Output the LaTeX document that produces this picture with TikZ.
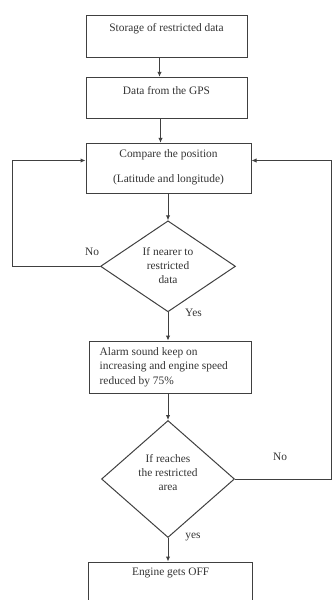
\documentclass[tikz,border=0pt]{standalone}
\usepackage{fontspec}
\setmainfont{Liberation Serif}
\usetikzlibrary{shapes.geometric,arrows.meta,calc}
\begin{document}
\begin{tikzpicture}[x=1pt,y=-1pt,
  box/.style={draw=black!75,line width=1pt,rectangle,inner sep=0pt},
  dia/.style={draw=black!75,line width=1pt,diamond,inner sep=0pt,aspect=1.5},
  txt/.style={inner sep=0pt,font=\fontsize{11.4}{14.5}\selectfont,text=black!80},
  dtxt/.style={txt,align=center,font=\fontsize{11.4}{14}\selectfont},
  arr/.style={draw=black!75,line width=1pt,-{Latex[length=5pt,width=4.5pt]}}
]
\useasboundingbox (0,0) rectangle (333,600);
\clip (0,0) rectangle (333,600);

\node[box,minimum width=161pt,minimum height=42pt,
  label={[txt,anchor=center,yshift=-14pt]north:Storage of restricted data}] (b1) at (166.5,36.2) {};
\node[box,minimum width=161pt,minimum height=41pt,
  label={[txt,anchor=center,yshift=-13.4pt]north:Data from the GPS}] (b2) at (166.5,97.8) {};
\node[box,minimum width=165pt,minimum height=50pt,
  label={[txt,align=center,anchor=center,yshift=-24.2pt]north:Compare the position\\[10.5pt](Latitude and longitude)}] (b3) at (168.5,168.3) {};
\node[dia,minimum width=135pt,minimum height=91pt,
  label={[dtxt,anchor=center,yshift=-45.2pt]north:If nearer to\\restricted\\data}] (d1) at (168,266.3) {};
\node[box,minimum width=162.4pt,minimum height=52.3pt,
  label={[txt,align=left,anchor=west,xshift=10.7pt]west:Alarm sound keep on\\increasing and engine speed\\reduced by 75\%}] (b4) at (170.5,367.2) {};
\node[dia,minimum width=133pt,minimum height=117pt,
  label={[dtxt,anchor=center,yshift=-52.8pt]north:If reaches\\the restricted\\area}] (d2) at (168,479) {};
\node[box,minimum width=163.5pt,minimum height=44pt,
  label={[txt,anchor=center,yshift=-11.3pt]north:Engine gets OFF}] (b5) at (170.7,584) {};

\node[txt] (no1) at (92,252) {No};
\node[txt] (yes1) at (193.5,313) {Yes};
\node[txt] (no2) at (280,457) {No};
\node[txt] (yes2) at (193,537) {yes};

\coordinate (lc) at (12,160.5);
\coordinate (rc) at (331.5,160.5);

\draw[arr] ([xshift=-7pt]b1.south) -- ([xshift=-7pt]b1.south |- b2.north);
\draw[arr] ([xshift=-6pt]b2.south) -- ([xshift=-6pt]b2.south |- b3.north);
\draw[arr] (d1.north |- b3.south) -- (d1.north);
\draw[arr] (d1.south) -- (d1.south |- b4.north);
\draw[arr] (d2.north |- b4.south) -- (d2.north);
\draw[arr] (d2.south) -- (d2.south |- b5.north);
\draw[arr] (d1.west) -- (d1.west -| lc) -- (lc) -- (lc -| b3.west);
\draw[arr] (d2.east) -- (d2.east -| rc) -- (rc) -- (rc -| b3.east);
\end{tikzpicture}
\end{document}
